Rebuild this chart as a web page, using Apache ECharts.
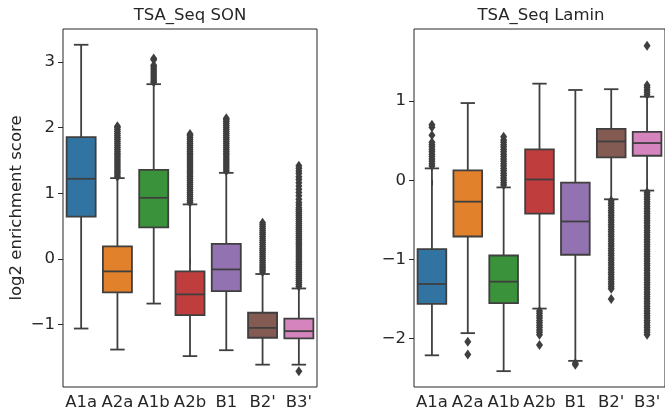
<!DOCTYPE html>
<html>
<head>
<meta charset="utf-8">
<script src="https://cdn.jsdelivr.net/npm/echarts@6/dist/echarts.min.js"></script>
<style>
  html, body { margin: 0; padding: 0; background: #fff; }
  #chart { width: 665px; height: 415px; }
</style>
</head>
<body>
<div id="chart"></div>
<script>
const categories = ['A1a', 'A2a', 'A1b', 'A2b', 'B1', "B2'", "B3'"];
const boxColors = ['#3274a1', '#e1812c', '#3a923a', '#c03d3e', '#9372b2', '#845b53', '#d684bd'];
const edgeColor = '#3f3f3f';
const textColor = '#262626';

// [lower whisker, Q1, median, Q3, upper whisker]
const sonBoxes = [
  [-1.06, 0.645, 1.22, 1.855, 3.26],
  [-1.38, -0.51, -0.19, 0.19, 1.23],
  [-0.68, 0.48, 0.93, 1.355, 2.66],
  [-1.48, -0.855, -0.54, -0.19, 0.83],
  [-1.39, -0.49, -0.16, 0.23, 1.31],
  [-1.61, -1.20, -1.05, -0.82, -0.23],
  [-1.61, -1.21, -1.10, -0.91, -0.45]
];
const laminBoxes = [
  [-2.21, -1.56, -1.31, -0.87, 0.15],
  [-1.93, -0.71, -0.27, 0.126, 0.975],
  [-2.41, -1.55, -1.28, -0.95, -0.09],
  [-1.62, -0.42, 0.01, 0.39, 1.22],
  [-2.28, -0.94, -0.52, -0.03, 1.14],
  [-0.24, 0.29, 0.49, 0.65, 1.15],
  [-0.13, 0.31, 0.47, 0.61, 1.055]
];

// outlier values per category
const sonOutliers = [
  [],
  [1.25, 1.28, 1.31, 1.34, 1.37, 1.40, 1.43, 1.46, 1.49, 1.52, 1.55, 1.58, 1.61, 1.64, 1.67, 1.70, 1.73, 1.76, 1.79, 1.82, 1.85, 1.88, 1.91, 1.94, 1.97, 2.00, 2.02],
  [2.69, 2.71, 2.74, 2.77, 2.80, 2.83, 2.86, 2.89, 2.92, 2.95, 3.03, 3.05],
  [0.86, 0.89, 0.92, 0.95, 0.98, 1.01, 1.04, 1.07, 1.10, 1.13, 1.16, 1.19, 1.22, 1.25, 1.28, 1.31, 1.34, 1.37, 1.40, 1.43, 1.46, 1.49, 1.52, 1.55, 1.58, 1.61, 1.64, 1.67, 1.70, 1.73, 1.76, 1.79, 1.82, 1.85, 1.88, 1.90],
  [1.34, 1.37, 1.40, 1.43, 1.46, 1.49, 1.52, 1.55, 1.58, 1.61, 1.64, 1.67, 1.70, 1.73, 1.76, 1.79, 1.82, 1.85, 1.88, 1.91, 1.94, 1.97, 2.00, 2.03, 2.06, 2.09, 2.12, 2.14],
  [-0.20, -0.17, -0.14, -0.11, -0.08, -0.05, -0.02, 0.01, 0.04, 0.07, 0.10, 0.13, 0.16, 0.19, 0.22, 0.25, 0.28, 0.31, 0.34, 0.37, 0.40, 0.43, 0.46, 0.49, 0.52, 0.55],
  [-1.71, -0.42, -0.39, -0.36, -0.33, -0.30, -0.27, -0.24, -0.21, -0.18, -0.15, -0.12, -0.09, -0.06, -0.03, 0.00, 0.03, 0.06, 0.09, 0.12, 0.15, 0.18, 0.21, 0.24, 0.27, 0.30, 0.33, 0.36, 0.39, 0.42, 0.45, 0.48, 0.51, 0.54, 0.57, 0.60, 0.63, 0.66, 0.69, 0.72, 0.75, 0.78, 0.82, 0.86, 0.91, 0.96, 1.01, 1.06, 1.11, 1.16, 1.21, 1.25, 1.30, 1.34, 1.38, 1.42]
];
const laminOutliers = [
  [0.18, 0.21, 0.24, 0.27, 0.30, 0.33, 0.36, 0.39, 0.42, 0.45, 0.48, 0.57, 0.67, 0.70],
  [-2.04, -2.20],
  [-0.06, -0.03, 0.00, 0.03, 0.06, 0.09, 0.12, 0.15, 0.18, 0.21, 0.24, 0.27, 0.30, 0.33, 0.36, 0.39, 0.42, 0.45, 0.48, 0.51, 0.55],
  [-1.65, -1.68, -1.71, -1.74, -1.77, -1.80, -1.83, -1.86, -1.89, -1.92, -1.95, -2.08],
  [-2.31, -2.33],
  [-0.26, -0.29, -0.32, -0.35, -0.38, -0.41, -0.44, -0.47, -0.50, -0.53, -0.56, -0.59, -0.62, -0.65, -0.68, -0.71, -0.74, -0.77, -0.80, -0.83, -0.86, -0.89, -0.92, -0.95, -0.98, -1.01, -1.04, -1.07, -1.10, -1.13, -1.16, -1.19, -1.22, -1.25, -1.28, -1.31, -1.34, -1.37, -1.50],
  [1.08, 1.11, 1.14, 1.17, 1.20, 1.70, -0.15, -0.18, -0.21, -0.24, -0.27, -0.30, -0.33, -0.36, -0.39, -0.42, -0.45, -0.48, -0.51, -0.54, -0.57, -0.60, -0.63, -0.66, -0.69, -0.72, -0.75, -0.78, -0.81, -0.84, -0.87, -0.90, -0.93, -0.96, -0.99, -1.02, -1.05, -1.08, -1.11, -1.14, -1.17, -1.20, -1.23, -1.26, -1.29, -1.32, -1.35, -1.38, -1.41, -1.44, -1.47, -1.50, -1.53, -1.56, -1.59, -1.62, -1.65, -1.68, -1.71, -1.74, -1.77, -1.80, -1.83, -1.86, -1.89, -1.92, -1.95]
];

const sonTicks = [-1, 0, 1, 2, 3];
const laminTicks = [-2, -1, 0, 1];

const fontFamily = 'DejaVu Sans';
const fontSize = 16.5;

function renderBox(params, api) {
  const i = api.value(0);
  const lo = api.coord([i, api.value(1)]);
  const q1 = api.coord([i, api.value(2)]);
  const md = api.coord([i, api.value(3)]);
  const q3 = api.coord([i, api.value(4)]);
  const hi = api.coord([i, api.value(5)]);
  const w = api.size([1, 0])[0] * 0.8;
  const x = lo[0];
  const line = { stroke: edgeColor, lineWidth: 1.8 };
  return {
    type: 'group',
    children: [
      { type: 'line', shape: { x1: x, y1: q3[1], x2: x, y2: hi[1] }, style: line },
      { type: 'line', shape: { x1: x, y1: q1[1], x2: x, y2: lo[1] }, style: line },
      { type: 'line', shape: { x1: x - w / 4, y1: hi[1], x2: x + w / 4, y2: hi[1] }, style: line },
      { type: 'line', shape: { x1: x - w / 4, y1: lo[1], x2: x + w / 4, y2: lo[1] }, style: line },
      { type: 'rect', shape: { x: x - w / 2, y: q3[1], width: w, height: q1[1] - q3[1] },
        style: { fill: boxColors[i], stroke: edgeColor, lineWidth: 1.8 } },
      { type: 'line', shape: { x1: x - w / 2, y1: md[1], x2: x + w / 2, y2: md[1] }, style: line }
    ]
  };
}

function minusFmt(v) {
  return String(v).replace('-', '\u2212');
}

function makeX(gridIndex) {
  return {
    type: 'category',
    gridIndex,
    data: categories,
    boundaryGap: true,
    axisLine: { show: false },
    axisTick: { show: true, alignWithLabel: true, interval: 0, length: 5, lineStyle: { color: textColor, width: 1 } },
    axisLabel: { interval: 0, color: textColor, fontSize, fontFamily, margin: 7 },
    splitLine: { show: false }
  };
}

function makeY(gridIndex, min, max, ticks, extra) {
  return Object.assign({
    type: 'value',
    gridIndex,
    min,
    max,
    axisLine: { show: false },
    axisTick: { show: true, length: 5, customValues: ticks, lineStyle: { color: textColor, width: 1 } },
    axisLabel: { color: textColor, fontSize, fontFamily, margin: 8, customValues: ticks, formatter: minusFmt },
    splitLine: { show: false }
  }, extra || {});
}

function boxSeries(boxes, axisIndex) {
  return {
    type: 'custom',
    xAxisIndex: axisIndex,
    yAxisIndex: axisIndex,
    renderItem: renderBox,
    encode: { x: 0, y: [1, 2, 3, 4, 5] },
    data: boxes.map((b, i) => [i].concat(b)),
    z: 2
  };
}

function outlierSeries(outliers, axisIndex) {
  const pts = [];
  outliers.forEach((vals, i) => vals.forEach(v => pts.push([i, v])));
  return {
    type: 'scatter',
    xAxisIndex: axisIndex,
    yAxisIndex: axisIndex,
    symbol: 'diamond',
    symbolSize: [7, 10],
    itemStyle: { color: edgeColor, opacity: 1 },
    data: pts,
    z: 3
  };
}

const chart = echarts.init(document.getElementById('chart'), null, { renderer: 'canvas' });
chart.setOption({
  animation: false,
  backgroundColor: '#ffffff',
  title: [
    { text: 'TSA_Seq SON', left: 190, top: 7, padding: 0, textAlign: 'center',
      textStyle: { color: textColor, fontSize, fontFamily, fontWeight: 'normal' } },
    { text: 'TSA_Seq Lamin', left: 541, top: 7, padding: 0, textAlign: 'center',
      textStyle: { color: textColor, fontSize, fontFamily, fontWeight: 'normal' } }
  ],
  grid: [
    { left: 63, top: 29, width: 254, height: 358, show: true, borderColor: textColor, borderWidth: 1, backgroundColor: 'transparent' },
    { left: 414, top: 29, width: 254, height: 358, show: true, borderColor: textColor, borderWidth: 1, backgroundColor: 'transparent' }
  ],
  xAxis: [makeX(0), makeX(1)],
  yAxis: [
    makeY(0, -1.95, 3.5, sonTicks, {
      name: 'log2 enrichment score',
      nameLocation: 'middle',
      nameGap: 38,
      nameRotate: 90,
      nameTextStyle: { color: textColor, fontSize, fontFamily }
    }),
    makeY(1, -2.61, 1.91, laminTicks)
  ],
  series: [
    boxSeries(sonBoxes, 0),
    outlierSeries(sonOutliers, 0),
    boxSeries(laminBoxes, 1),
    outlierSeries(laminOutliers, 1)
  ]
});
</script>
</body>
</html>
